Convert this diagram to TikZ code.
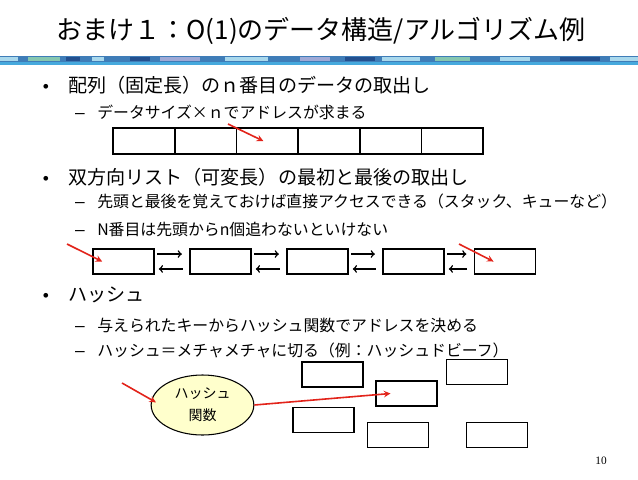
\documentclass[tikz,border=0pt]{standalone}
\usepackage{fontspec}
\setmainfont{Noto Sans CJK JP}
\newfontfamily\pagefont{Liberation Serif}
\newfontfamily\markfont{Liberation Sans}
\usetikzlibrary{shapes.geometric}
\definecolor{ptrred}{HTML}{E2231A}
\definecolor{hashfill}{HTML}{FFFFCC}
\definecolor{bandblue}{HTML}{3F7DB8}
\definecolor{bandline}{HTML}{46A9DD}
\definecolor{bandlight}{HTML}{A9D8EC}
\definecolor{banddark}{HTML}{23508F}
\definecolor{bandgreen}{HTML}{86C7B0}
\definecolor{bandlav}{HTML}{9FA9D6}

\begin{document}
\begin{tikzpicture}[>=stealth,x=0.75pt,y=-0.75pt,
  cell/.style={draw,line width=1.2pt,minimum width=46.25pt,minimum height=19.5pt,inner sep=0pt},
  box/.style={draw,line width=1.2pt,minimum width=45.75pt,minimum height=18.75pt,inner sep=0pt},
  ptr/.style={->,draw=ptrred,line width=1.2pt},
  link/.style={->,>=to,line width=1.1pt},
  head/.style={anchor=west,inner sep=0pt,font=\fontsize{14.3}{16}\selectfont},
  sub/.style={anchor=west,inner sep=0pt,font=\fontsize{11.9}{14}\selectfont},
  dot/.style={anchor=base east,inner sep=0pt,font=\markfont\fontsize{13}{14}\selectfont}]

\useasboundingbox (0,0) rectangle (638,479);

\node(title) at (321,31)[inner sep=0pt,font=\fontsize{19.5}{22}\selectfont] {おまけ１：O(1)のデータ構造/アルゴリズム例};

\fill[bandblue] (0,56) rectangle (638,62);
\foreach \a/\b/\c in {0/18/bandlight,28/60/bandgreen,66/80/banddark,92/104/bandlight,
    130/150/banddark,160/200/bandlav,225/268/bandlight,300/330/bandlav,345/375/banddark,
    382/420/bandlight,435/470/bandgreen,500/530/bandlight,560/600/banddark,610/638/bandlight}
  \fill[\c] (\a,56.5) rectangle (\b,61);
\fill[bandline] (0,62) rectangle (638,65);

\node(h1) at (68,85)[head] {配列（固定長）のｎ番目のデータの取出し};
\node(d1) at ([xshift=-14pt]h1.base west)[dot] {•};
\node(s1) at (97,112)[sub] {データサイズ×ｎでアドレスが求まる};
\node(e1) at ([xshift=-9pt]s1.base west)[dot] {–};

\foreach \i in {0,...,5}
  \node(a\i) at ({144+61.67*\i},141)[cell] {};
\coordinate(in0) at (228,124);
\draw[ptr] (in0) -- ([xshift=-3pt]a2.center);

\node(h2) at (68,177)[head] {双方向リスト（可変長）の最初と最後の取出し};
\node(d2) at ([xshift=-14pt]h2.base west)[dot] {•};
\node(s2) at (97,201)[sub] {先頭と最後を覚えておけば直接アクセスできる（スタック、キューなど）};
\node(e2) at ([xshift=-9pt]s2.base west)[dot] {–};
\node(s3) at (97,229)[sub] {N番目は先頭からn個追わないといけない};
\node(e3) at ([xshift=-9pt]s3.base west)[dot] {–};

\foreach \n/\x in {1/123.5,2/220.5,3/317.5,4/413.5,5/505}
  \node(l\n) at (\x,261.5)[box] {};
\foreach \p/\q in {l1/l2,l2/l3,l3/l4,l4/l5} {
  \draw[link] ([yshift=5.6pt,xshift=2pt]\p.east) -- ([yshift=5.6pt,xshift=-5.5pt]\q.west);
  \draw[link] ([yshift=-5.6pt,xshift=-5pt]\q.west) -- ([yshift=-5.6pt,xshift=3pt]\p.east);
}
\coordinate(in1) at (67,244);
\draw[ptr] (in1) -- ([xshift=-16pt]l1.center);
\coordinate(in2) at (459,244);
\draw[ptr] (in2) -- ([xshift=-8.6pt]l5.center);

\node(h3) at (68,295)[head] {ハッシュ};
\node(d3) at ([xshift=-14pt]h3.base west)[dot] {•};
\node(s4) at (97,325)[sub] {与えられたキーからハッシュ関数でアドレスを決める};
\node(e4) at ([xshift=-9pt]s4.base west)[dot] {–};
\node(s5) at (97,350)[sub] {ハッシュ＝メチャメチャに切る（例：ハッシュドビーフ）};
\node(e5) at ([xshift=-9pt]s5.base west)[dot] {–};

\node(hf) at (202.5,405)[ellipse,draw,line width=0.8pt,fill=hashfill,minimum width=77pt,minimum height=45pt,inner sep=0pt,align=center,font=\fontsize{10.5}{16.5}\selectfont] {ハッシュ\\関数};
\foreach \n/\x/\y in {1/332.5/374.5,2/406.5/393.5,3/477/372,4/323.5/420,5/398/435,6/497/435}
  \node(t\n) at (\x,\y)[box] {};
\coordinate(key) at (122,383);
\draw[ptr] (key) -- ([xshift=4pt,yshift=2pt]hf.west);
\draw[ptr] (hf.east) -- ([xshift=-12pt]t2.center);

\node(pg) at (601,461)[inner sep=0pt,font=\pagefont\fontsize{8.5}{10}\selectfont] {10};

\end{tikzpicture}
\end{document}
